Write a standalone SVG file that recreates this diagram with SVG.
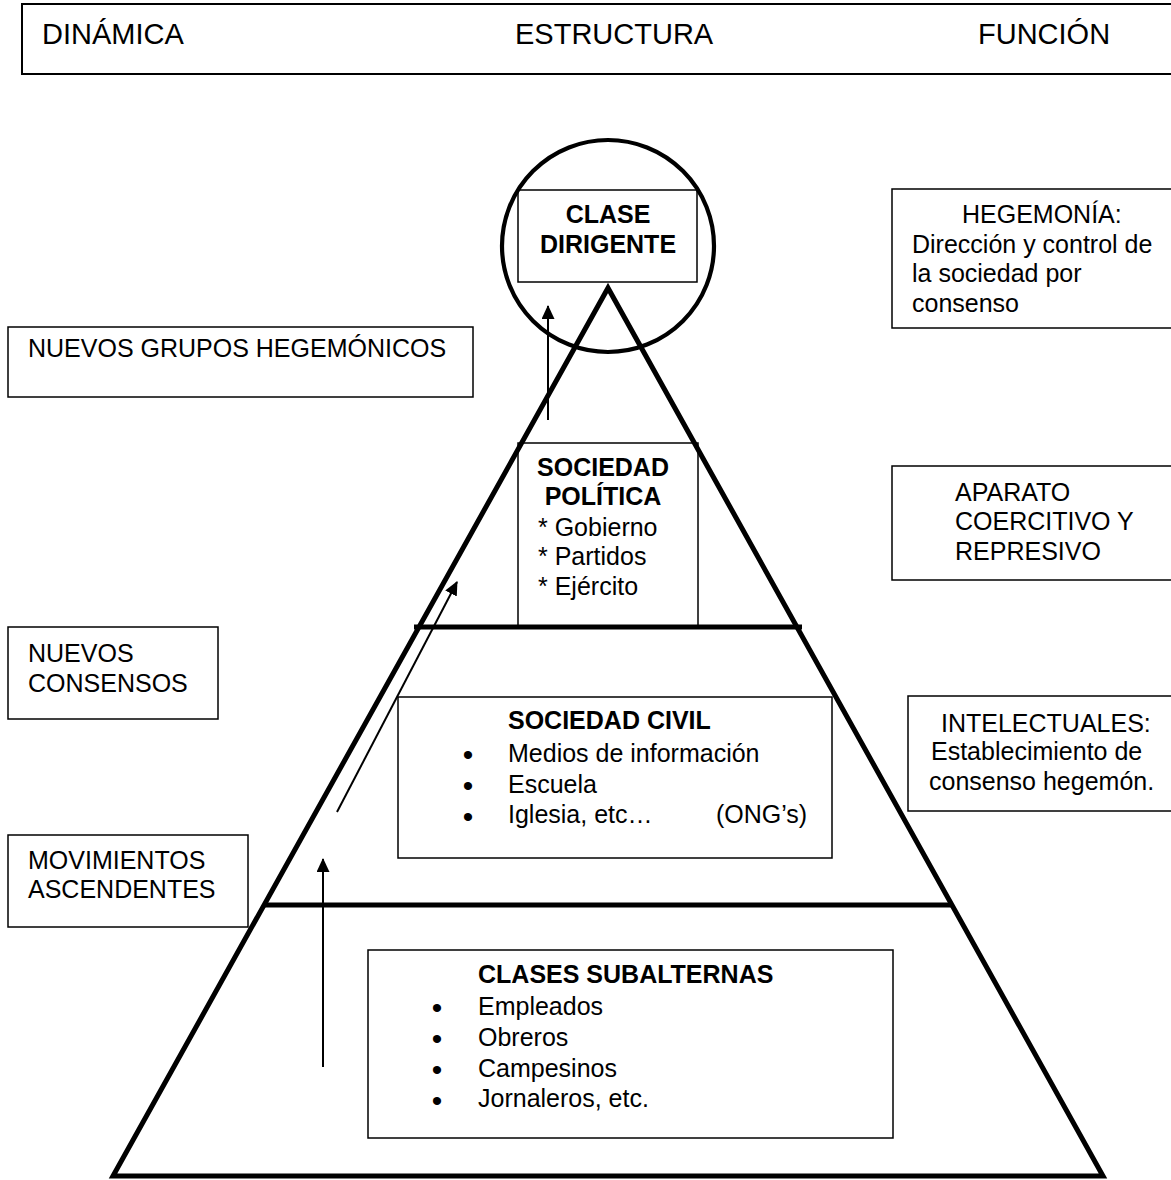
<svg xmlns="http://www.w3.org/2000/svg" width="1171" height="1180" viewBox="0 0 1171 1180">
<style>
.t{font-family:"Liberation Sans",Arial,sans-serif;font-size:25px;fill:#000}
.h{font-size:29px}
.b{font-weight:bold}
.m{text-anchor:middle}
.bul{font-size:30px}
.box{fill:none;stroke:#000;stroke-width:1.5}
.thick{fill:none;stroke:#000;stroke-width:5}
.conn{stroke:#000;stroke-width:2;fill:none}
</style>
<defs>
<marker id="ah" markerWidth="14" markerHeight="13" refX="13" refY="6.5" orient="auto" markerUnits="userSpaceOnUse">
<path d="M0,0 L14,6.5 L0,13 Z" fill="#000"/>
</marker>
</defs>
<rect x="0" y="0" width="1171" height="1180" fill="#fff"/>

<g id="header">
<rect x="22" y="4" width="1170" height="70" fill="none" stroke="#000" stroke-width="2"/>
<text class="t h" x="42" y="44">DINÁMICA</text>
<text class="t h" x="515" y="44">ESTRUCTURA</text>
<text class="t h" x="978" y="44">FUNCIÓN</text>
</g>

<g id="pyramid">
<circle cx="608" cy="246" r="106" fill="none" stroke="#000" stroke-width="4.2"/>
<path class="thick" d="M113,1176 L608,288 L1103,1176 Z"/>
<line class="thick" x1="414" y1="627" x2="802" y2="627" stroke-width="5.5"/>
<line class="thick" x1="263" y1="905" x2="953" y2="905" stroke-width="5.5"/>
</g>

<g id="clase-dirigente">
<rect class="box" x="518" y="190" width="179" height="92" fill="#fff"/>
<text class="t b m" x="608" y="223">CLASE</text>
<text class="t b m" x="608" y="253">DIRIGENTE</text>
</g>

<g id="sociedad-politica">
<rect class="box" x="518" y="443" width="180" height="184"/>
<text class="t b m" x="603" y="476">SOCIEDAD</text>
<text class="t b m" x="603" y="505">POLÍTICA</text>
<text class="t" x="538" y="536">* Gobierno</text>
<text class="t" x="538" y="565">* Partidos</text>
<text class="t" x="538" y="595">* Ejército</text>
</g>

<g id="sociedad-civil">
<rect class="box" x="398" y="697" width="434" height="161"/>
<text class="t b" x="508" y="729">SOCIEDAD CIVIL</text>
<text class="t bul" x="462.75" y="765.4">•</text>
<text class="t" x="508" y="762">Medios de información</text>
<text class="t bul" x="462.75" y="796.4">•</text>
<text class="t" x="508" y="793">Escuela</text>
<text class="t bul" x="462.75" y="827.4">•</text>
<text class="t" x="508" y="823">Iglesia, etc…</text>
<text class="t" x="716" y="823">(ONG’s)</text>
</g>

<g id="clases-subalternas">
<rect class="box" x="368" y="950" width="525" height="188"/>
<text class="t b" x="478" y="983">CLASES SUBALTERNAS</text>
<text class="t bul" x="431.75" y="1018.4">•</text>
<text class="t" x="478" y="1015">Empleados</text>
<text class="t bul" x="431.75" y="1049.4">•</text>
<text class="t" x="478" y="1046">Obreros</text>
<text class="t bul" x="431.75" y="1080.4">•</text>
<text class="t" x="478" y="1077">Campesinos</text>
<text class="t bul" x="431.75" y="1111.4">•</text>
<text class="t" x="478" y="1107">Jornaleros, etc.</text>
</g>

<g id="nuevos-grupos">
<rect class="box" x="8" y="327" width="465" height="70"/>
<text class="t" x="28" y="357">NUEVOS GRUPOS HEGEMÓNICOS</text>
</g>

<g id="nuevos-consensos">
<rect class="box" x="8" y="627" width="210" height="92"/>
<text class="t" x="28" y="662">NUEVOS</text>
<text class="t" x="28" y="692">CONSENSOS</text>
</g>

<g id="movimientos">
<rect class="box" x="8" y="835" width="240" height="92"/>
<text class="t" x="28" y="869">MOVIMIENTOS</text>
<text class="t" x="28" y="898">ASCENDENTES</text>
</g>

<g id="hegemonia">
<rect class="box" x="892" y="189" width="300" height="139"/>
<text class="t" x="962" y="223">HEGEMONÍA:</text>
<text class="t" x="912" y="253">Dirección y control de</text>
<text class="t" x="912" y="282">la sociedad por</text>
<text class="t" x="912" y="312">consenso</text>
</g>

<g id="aparato">
<rect class="box" x="892" y="466" width="300" height="114"/>
<text class="t" x="955" y="501">APARATO</text>
<text class="t" x="955" y="530">COERCITIVO Y</text>
<text class="t" x="955" y="560">REPRESIVO</text>
</g>

<g id="intelectuales">
<rect class="box" x="908" y="696" width="290" height="115"/>
<text class="t" x="941" y="732">INTELECTUALES:</text>
<text class="t" x="931" y="760">Establecimiento de</text>
<text class="t" x="929" y="790">consenso hegemón.</text>
</g>

<g id="connectors">
<line class="conn" x1="548" y1="420" x2="548" y2="306" marker-end="url(#ah)"/>
<line class="conn" x1="337" y1="812" x2="457" y2="582" marker-end="url(#ah)"/>
<line class="conn" x1="323" y1="1067" x2="323" y2="859" marker-end="url(#ah)"/>
</g>
</svg>
